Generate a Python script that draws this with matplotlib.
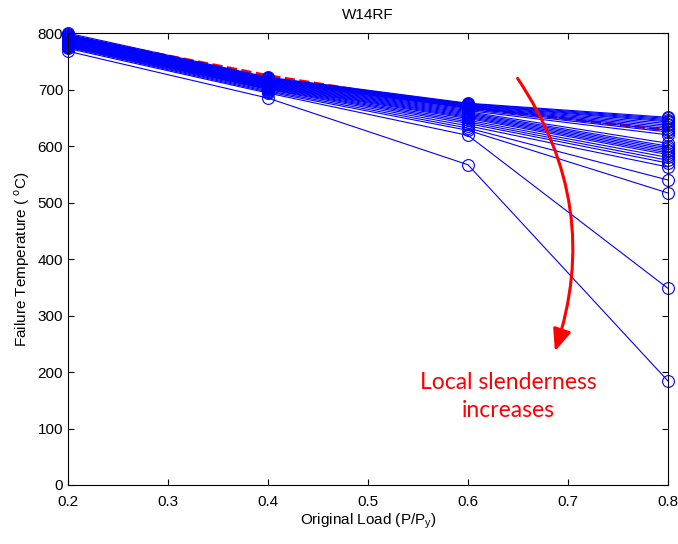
import numpy as np
import matplotlib.pyplot as plt
from matplotlib.patches import FancyArrowPatch

#%% data
loads = [0.2, 0.4, 0.6, 0.8]
# failure temperature of each section at each load ratio
t_02 = [800, 798, 797, 796, 795, 794, 793, 792, 791, 790, 789, 788, 787, 786,
        785, 784, 783, 782, 781, 780, 779, 778, 777, 776, 775, 773, 768]
t_04 = [722, 721, 720, 719, 718, 717, 716, 715, 714, 713, 712, 711, 710, 709,
        708, 707, 706, 705, 704, 703, 702, 701, 700, 698, 696, 694, 685]
t_06 = [676, 675, 674, 673, 672, 671, 670, 669, 668, 667, 665, 663, 661, 659,
        657, 655, 653, 651, 649, 646, 643, 640, 636, 632, 628, 619, 567]
t_08 = [651, 649, 647, 645, 643, 640, 637, 634, 631, 628, 625, 620, 605, 600,
        597, 594, 591, 588, 585, 580, 575, 570, 563, 540, 517, 348, 184]
# reference curve (red dashed)
t_ref = [795, 725, 668, 628]

#%%
plt.rcParams['font.family'] = ['Liberation Sans', 'DejaVu Sans']
fig = plt.figure(figsize=(6.78, 5.44), dpi=100)
ax = fig.add_axes([0.1003, 0.1085, 0.885, 0.8305])

ax.plot(loads, t_ref, '--', color='red', lw=2, zorder=1)
temps = np.array([t_02, t_04, t_06, t_08])
for i in range(temps.shape[1]):
    ax.plot(loads, temps[:, i], '-o', color='blue', lw=0.8, ms=8.5,
            mfc='none', mec='blue', mew=0.8, zorder=2, clip_on=False)

ax.set_xlim(0.2, 0.8)
ax.set_ylim(0, 800)
ax.set_xticks(np.arange(0.2, 0.81, 0.1))
ax.set_yticks(np.arange(0, 801, 100))
ax.tick_params(direction='in', top=True, right=True, labelsize=11, length=4)
ax.tick_params(axis='x', pad=7)
ax.set_xlabel('Original Load (P/P$_\\mathregular{y}$)', fontsize=11, labelpad=2)
ax.set_ylabel('Failure Temperature ( $^\\mathregular{o}$C)', fontsize=11)
ax.set_title('W14RF', fontsize=11, pad=10)

arrow = FancyArrowPatch((0.648, 724), (0.686, 232), connectionstyle='arc3,rad=-0.25',
                        arrowstyle='-|>,head_length=0.6,head_width=0.25', mutation_scale=22,
                        color='red', lw=2.2, zorder=3)
ax.add_patch(arrow)
ax.text(0.64, 156, 'Local slenderness\nincreases', color='red', fontsize=16.5,
        family='Lato', ha='center', va='center', linespacing=1.4)

plt.savefig('out.png', dpi=100)
plt.close(fig)
